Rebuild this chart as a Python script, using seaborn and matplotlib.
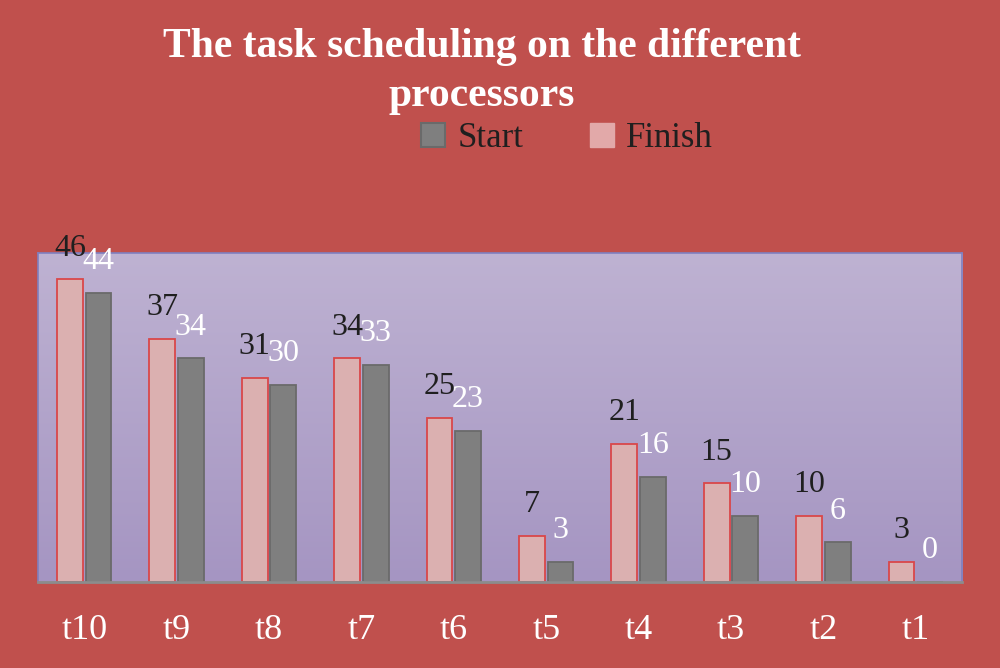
import numpy as np
import pandas as pd
import matplotlib
matplotlib.use("Agg")
import matplotlib.pyplot as plt
import seaborn as sns
from matplotlib.patches import Patch

# --- data ---
tasks = ["t10", "t9", "t8", "t7", "t6", "t5", "t4", "t3", "t2", "t1"]
finish = [46, 37, 31, 34, 25, 7, 21, 15, 10, 3]
start = [44, 34, 30, 33, 23, 3, 16, 10, 6, 0]

BG = "#C0504D"
PINK = "#E2A9A9"
PINK_EDGE = "#D9474A"
GRAY = "#7F7F7F"
GRAY_EDGE = "#6A6A6A"

df = pd.DataFrame({
    "Task": tasks * 2,
    "Value": finish + start,
    "Series": ["Finish"] * len(tasks) + ["Start"] * len(tasks),
})

sns.set_style("white")
plt.rcParams["font.family"] = ["Liberation Serif", "DejaVu Serif"]

fig = plt.figure(figsize=(10, 6.68), dpi=100, facecolor=BG)
ax = fig.add_axes([0.038, 0.129, 0.924, 0.492])

# gradient plot area
grad = np.linspace(0, 1, 256).reshape(-1, 1)
cmap = matplotlib.colors.LinearSegmentedColormap.from_list("bgpl", ["#A595C2", "#BEB2D2"])
ax.imshow(grad, cmap=cmap, origin="lower", aspect="auto", extent=[0, 1, 0, 1],
          transform=ax.transAxes, zorder=0)

sns.barplot(data=df, x="Task", y="Value", hue="Series", hue_order=["Finish", "Start"],
            palette={"Finish": PINK, "Start": GRAY}, width=0.62, gap=0.1,
            legend=False, ax=ax, zorder=2)

for cont, ec in zip(ax.containers, [PINK_EDGE, GRAY_EDGE]):
    for p in cont:
        p.set_edgecolor(ec)
        p.set_linewidth(1.3)

ax.bar_label(ax.containers[0], fmt="%g", padding=12, color="#1f1f1f", fontsize=23)
ax.bar_label(ax.containers[1], fmt="%g", padding=12, color="white", fontsize=23)

ax.set_ylim(0, 50)
ax.set_xlim(-0.5, len(tasks) - 0.5)
ax.set_yticks([])
ax.set_xlabel("")
ax.set_ylabel("")
ax.tick_params(axis="x", length=0, pad=23, labelsize=26, colors="white")
for side in ["top", "left", "right"]:
    ax.spines[side].set_color("#7F7FBF")
    ax.spines[side].set_linewidth(1.2)
ax.spines["bottom"].set_color("#8C8C8C")
ax.spines["bottom"].set_linewidth(2)

fig.text(0.482, 0.893, "The task scheduling on the different\nprocessors", ha="center", va="center",
         color="white", fontsize=30, fontweight="bold", linespacing=1.4)

handles = [Patch(facecolor=GRAY, edgecolor=GRAY_EDGE, linewidth=1.5),
           Patch(facecolor=PINK, edgecolor=PINK)]
fig.legend(handles, ["Start", "Finish"], loc="center", bbox_to_anchor=(0.567, 0.792), ncol=2,
           frameon=False, fontsize=25, handlelength=0.7, handleheight=0.7,
           handletextpad=0.35, columnspacing=1.9, labelcolor="#1f1f1f")

fig.savefig("out.png", dpi=100, facecolor=BG)
